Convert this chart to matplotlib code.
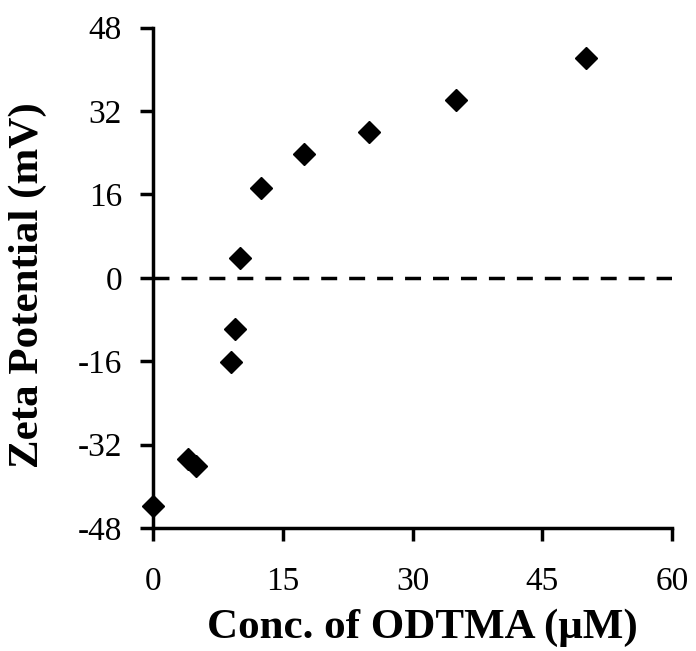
import matplotlib
matplotlib.use("Agg")
import matplotlib.pyplot as plt

conc = [0, 4, 5, 9, 9.5, 10, 12.5, 17.5, 25, 35, 50]
zeta = [-43.8, -34.7, -36.1, -16.1, -9.9, 3.8, 17.3, 23.7, 28.0, 34.1, 42.2]
xticks = [0, 15, 30, 45, 60]
yticks = [-48, -32, -16, 0, 16, 32, 48]

plt.rcParams['font.family'] = ['Liberation Serif', 'DejaVu Serif']
plt.rcParams['axes.unicode_minus'] = False
fig = plt.figure(figsize=(6.96, 6.51), dpi=100)
ax = fig.add_axes([153/696, (651-528)/651, (672-153)/696, (528-27.7)/651])
ax.plot(conc, zeta, linestyle='none', marker='D', markersize=11, color='black', clip_on=False, zorder=3)
ax.axhline(0, color='black', linestyle=(0, (4.6, 3.45)), linewidth=2.5)
ax.set_xlim(0, 60)
ax.set_ylim(-48, 48)
ax.set_xticks(xticks)
ax.set_yticks(yticks)
for s in ['top', 'right']:
    ax.spines[s].set_visible(False)
for s in ['left', 'bottom']:
    ax.spines[s].set_linewidth(2.5)
ax.tick_params(direction='out', length=9.4, width=2.5, labelsize=24)
ax.tick_params(axis='y', pad=13)
ax.tick_params(axis='x', pad=18)
fig.text(422/696, 1 - 628/651, 'Conc. of ODTMA (μM)', fontsize=31, fontweight='bold',
         ha='center', va='center')
fig.text(28/696, 1 - 285/651, 'Zeta Potential (mV)', fontsize=31, fontweight='bold',
         ha='center', va='center', rotation=90)
fig.savefig('out.png', dpi=100)
